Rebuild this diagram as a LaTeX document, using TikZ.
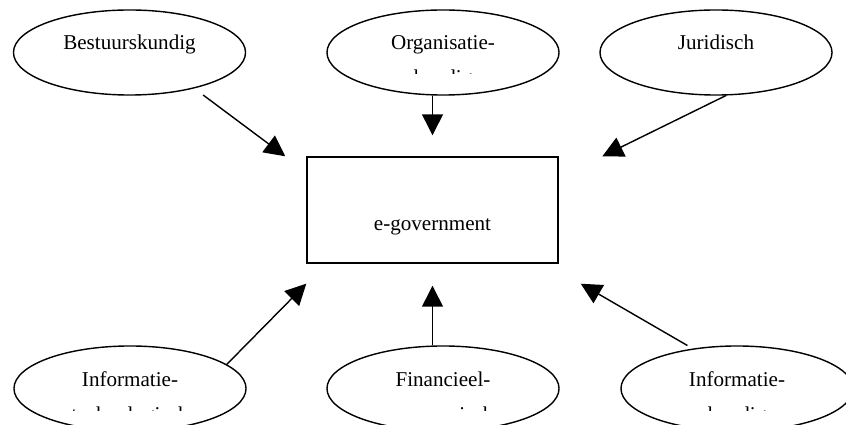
\documentclass[tikz,border=0pt]{standalone}
\usepackage{fontspec}
\setmainfont{Liberation Serif}
\usetikzlibrary{shapes.geometric, arrows.meta, positioning, calc}

\begin{document}
\begin{tikzpicture}[x=0.025cm, y=-0.025cm,
  oval/.style={draw, ellipse, line width=1pt, minimum width=5.8cm, minimum height=2.125cm,
    inner sep=0pt, text height=0.375cm, text depth=0.5cm, font=\fontsize{15}{18}\selectfont},
  govbox/.style={draw, line width=1pt, minimum width=6.275cm, minimum height=2.65cm,
    inner sep=0pt, text height=1.16cm, text depth=0.125cm, font=\fontsize{15}{18}\selectfont},
  cut/.style={anchor=base, inner sep=0pt, font=\fontsize{15}{18}\selectfont},
  arrow/.style={-{Triangle[length=0.52cm, width=0.52cm]}, line width=1pt}]
  \path[use as bounding box, fill=white] (0,0) rectangle (846,425);
  \clip (0,0) rectangle (846,425);
  \node[govbox] (gov) at (432.5,210) {e-government};
  \node[oval] (bes) at (129.5,52.5) {Bestuurskundig};
  \node[oval] (org) at (443,52.5) {Organisatie-};
  \node[oval] (jur) at (716,52.5) {Juridisch};
  \node[oval] (itech) at (130,388.5) {Informatie-};
  \node[oval] (fin) at (443,388.5) {Financieel-};
  \node[oval] (ikun) at (737,388.5) {Informatie-};
  \begin{scope}
    \clip ($(org.base)+(-110,10)$) rectangle ($(org.base)+(110,23.6)$);
    \node[cut] (orgb) at ($(org.base)+(0,35)$) {kundig};
  \end{scope}
  \begin{scope}
    \clip ($(itech.base)+(-110,10)$) rectangle ($(itech.base)+(110,24.2)$);
    \node[cut] (itechb) at ($(itech.base)+(0,35)$) {technologisch};
  \end{scope}
  \begin{scope}
    \clip ($(fin.base)+(-110,10)$) rectangle ($(fin.base)+(110,24.2)$);
    \node[cut] (finb) at ($(fin.base)+(0,35)$) {economisch};
  \end{scope}
  \begin{scope}
    \clip ($(ikun.base)+(-110,10)$) rectangle ($(ikun.base)+(110,24.2)$);
    \node[cut] (ikunb) at ($(ikun.base)+(0,35)$) {kundig};
  \end{scope}
  \coordinate[left=0.525cm of gov.north west] (besin);
  \coordinate[above=0.525cm of gov.north] (orgin);
  \coordinate[right=1.09cm of gov.north east] (jurin);
  \coordinate[below=0.5cm of gov.south west] (itechin);
  \coordinate[below=0.55cm of gov.south] (finin);
  \coordinate[below right=0.5cm and 0.55cm of gov.south east] (ikunin);
  \draw[arrow, shorten <=0.275cm] (bes.-29) -- (besin);
  \draw[arrow] (org.south -| orgin) -- (orgin);
  \draw[arrow] (jur.-77) -- (jurin);
  \draw[arrow] (itech.14) -- (itechin);
  \draw[arrow] (fin.north -| finin) -- (finin);
  \draw[arrow, shorten <=0.15cm] (ikun.138) -- (ikunin);
\end{tikzpicture}
\end{document}
